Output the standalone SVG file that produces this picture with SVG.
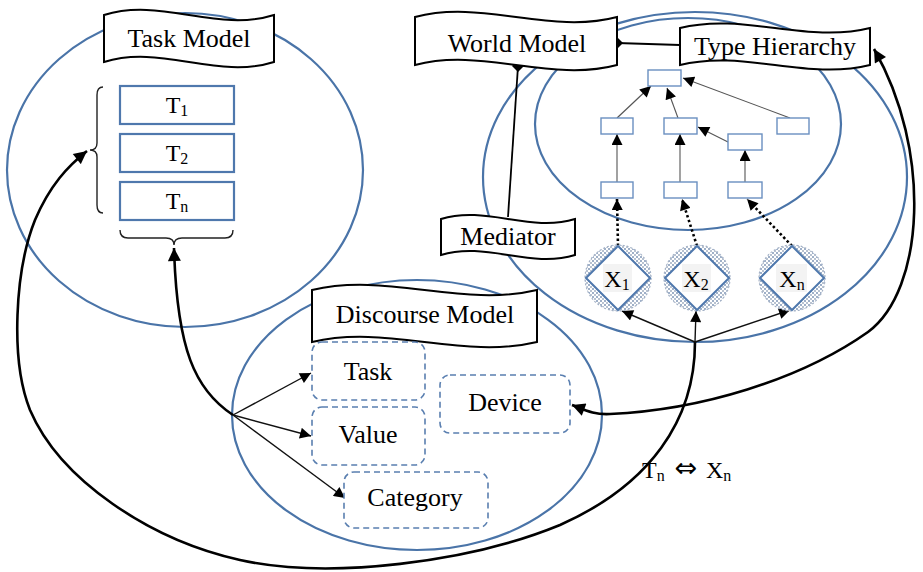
<svg xmlns="http://www.w3.org/2000/svg" width="923" height="572" viewBox="0 0 923 572">
<style>
.ell{fill:none;stroke:#4a74a8;stroke-width:2.2}
.ban{fill:#fff;stroke:#000;stroke-width:2}
.lbl{font-family:"Liberation Serif","Times New Roman",serif;font-size:26px;fill:#000}
.sm{font-size:24px}
.sub{font-size:16px}
.tbox{fill:#fff;stroke:#4f78ad;stroke-width:2.2}
.hbox{fill:#fff;stroke:#6a8fc0;stroke-width:1.4}
.dbox{fill:#fff;stroke:#5a7fb0;stroke-width:1.6;stroke-dasharray:6,4}
.thin{fill:none;stroke:#555;stroke-width:1.1}
.hub{fill:none;stroke:#111;stroke-width:1.4}
.big{fill:none;stroke:#000;stroke-width:2.6}
.dot{fill:none;stroke:#000;stroke-width:2.6;stroke-dasharray:2.5,2.5}
.brace{fill:none;stroke:#222;stroke-width:1.4}
.hc{fill:url(#hatch);stroke:#a3b1c6;stroke-width:1.2;stroke-dasharray:2,2}
.dm{fill:#fff;stroke:#4f78ad;stroke-width:2}
</style>
<defs>
<marker id="ah" viewBox="0 0 10 10" refX="10" refY="5" markerWidth="12" markerHeight="11" markerUnits="userSpaceOnUse" orient="auto"><path d="M0,0 L10,5 L0,10 Z" fill="#000"/></marker>
<marker id="ahb" viewBox="0 0 10 10" refX="10" refY="5" markerWidth="15" markerHeight="13" markerUnits="userSpaceOnUse" orient="auto-start-reverse"><path d="M0,0 L10,5 L0,10 Z" fill="#000"/></marker>
<marker id="dia" viewBox="0 0 10 10" refX="5" refY="5" markerWidth="12" markerHeight="12" markerUnits="userSpaceOnUse" orient="0"><path d="M5,0 L10,5 L5,10 L0,5 Z" fill="#000"/></marker>
<pattern id="hatch" width="4" height="4" patternUnits="userSpaceOnUse"><rect width="4" height="4" fill="#fff"/><rect width="2" height="2" fill="#9fb0c8"/><rect x="2" y="2" width="2" height="2" fill="#b8c2d0"/></pattern>
</defs>

<g id="ellipses">
<ellipse class="ell" cx="185" cy="170" rx="178" ry="157"/>
<ellipse class="ell" cx="417" cy="415" rx="185" ry="135"/>
<ellipse class="ell" cx="695" cy="177" rx="212" ry="165"/>
<ellipse class="ell" cx="688" cy="124" rx="153" ry="106"/>
</g>

<g id="connectors">
<path class="big" d="M695,342 C695,420 650,485 560,525 C470,562 330,580 240,560 C150,540 60,480 30,410 C10,360 15,270 35,220 C50,185 68,166 87,151" marker-end="url(#ahb)"/>
<path class="big" d="M233,415 C195,390 177,350 174,248" marker-end="url(#ahb)"/>
<path class="big" d="M572,405 C585,410 595,415 610,414 C700,410 800,380 868,332 C925,290 932,150 874,49" marker-start="url(#ahb)" marker-end="url(#ahb)"/>
<line class="hub" x1="233" y1="415" x2="311" y2="373" marker-end="url(#ah)"/>
<line class="hub" x1="233" y1="415" x2="311" y2="436" marker-end="url(#ah)"/>
<line class="hub" x1="233" y1="415" x2="345" y2="498" marker-end="url(#ah)"/>
<line class="hub" x1="695" y1="342" x2="622" y2="311" marker-end="url(#ah)"/>
<line class="hub" x1="695" y1="342" x2="696" y2="311" marker-end="url(#ah)"/>
<line class="hub" x1="695" y1="342" x2="790" y2="310" marker-end="url(#ah)"/>
<line class="dot" x1="618" y1="246" x2="617" y2="199" marker-end="url(#ah)"/>
<line class="dot" x1="697" y1="246" x2="682" y2="199" marker-end="url(#ah)"/>
<line class="dot" x1="792" y1="246" x2="747" y2="199" marker-end="url(#ah)"/>
<line class="thin" x1="617" y1="118" x2="651" y2="86" marker-end="url(#ah)"/>
<line class="thin" x1="678" y1="118" x2="667" y2="88" marker-end="url(#ah)"/>
<line class="thin" x1="790" y1="118" x2="683" y2="78" marker-end="url(#ah)"/>
<line class="thin" x1="728" y1="142" x2="698" y2="127" marker-end="url(#ah)"/>
<line class="thin" x1="617" y1="182" x2="617" y2="134" marker-end="url(#ah)"/>
<line class="thin" x1="680" y1="182" x2="680" y2="134" marker-end="url(#ah)"/>
<line class="thin" x1="745" y1="182" x2="745" y2="150" marker-end="url(#ah)"/>
<line stroke="#000" stroke-width="1.8" x1="617" y1="43" x2="680" y2="45" marker-start="url(#dia)"/>
<line stroke="#000" stroke-width="1.8" x1="518" y1="66" x2="508" y2="217" marker-start="url(#dia)"/>
<path class="brace" d="M103,87 Q97,87 97,95 L97,143 Q97,150 90,150 Q97,150 97,157 L97,205 Q97,213 103,213"/>
<path class="brace" d="M120,230 Q120,238 128,238 L166,238 Q174,238 174,245 Q174,238 182,238 L225,238 Q233,238 233,230"/>
</g>

<g id="task-model">
<path class="ban" d="M104,15 C161,-3 217,33 274,15 L274,62 C217,80 161,44 104,62 Z"/>
<text class="lbl" x="189" y="47" text-anchor="middle">Task Model</text>
</g>
<g id="t1"><rect class="tbox" x="120" y="86" width="114" height="38"/><text class="lbl sm" x="177" y="113" text-anchor="middle">T<tspan class="sub" dy="3">1</tspan></text></g>
<g id="t2"><rect class="tbox" x="120" y="134" width="114" height="38"/><text class="lbl sm" x="177" y="161" text-anchor="middle">T<tspan class="sub" dy="3">2</tspan></text></g>
<g id="tn"><rect class="tbox" x="120" y="182" width="114" height="38"/><text class="lbl sm" x="177" y="209" text-anchor="middle">T<tspan class="sub" dy="3">n</tspan></text></g>

<g id="world-model">
<path class="ban" d="M415,17 C482,-1 550,35 617,17 L617,65 C550,83 482,47 415,65 Z"/>
<text class="lbl" x="517" y="52" text-anchor="middle">World Model</text>
</g>
<g id="type-hierarchy">
<path class="ban" d="M680,28 C743,12 807,44 870,28 L870,65 C807,81 743,49 680,65 Z"/>
<text class="lbl" x="775" y="55" text-anchor="middle">Type Hierarchy</text>
</g>
<g id="mediator">
<path class="ban" d="M441,219 C486,205 530,233 575,219 L575,255 C530,269 486,241 441,255 Z"/>
<text class="lbl" x="508" y="245" text-anchor="middle">Mediator</text>
</g>
<g id="discourse-model">
<path class="ban" d="M312,290 C387,272 462,308 537,290 L537,342 C462,360 387,324 312,342 Z"/>
<text class="lbl" x="425" y="323" text-anchor="middle">Discourse Model</text>
</g>

<g id="hierarchy-nodes">
<rect class="hbox" x="648" y="70" width="33" height="16"/>
<rect class="hbox" x="601" y="118" width="32" height="16"/>
<rect class="hbox" x="664" y="118" width="33" height="16"/>
<rect class="hbox" x="777" y="118" width="32" height="16"/>
<rect class="hbox" x="728" y="134" width="34" height="16"/>
<rect class="hbox" x="601" y="182" width="32" height="16"/>
<rect class="hbox" x="664" y="182" width="33" height="16"/>
<rect class="hbox" x="728" y="182" width="34" height="16"/>
</g>

<g id="x1">
<circle class="hc" cx="618" cy="278" r="33"/>
<polygon class="dm" points="618,246 650,278 618,310 586,278"/>
<rect x="603" y="264" width="29" height="28" fill="#f3f3f3"/>
<text class="lbl sm" x="617" y="287" text-anchor="middle">X<tspan class="sub" dy="3">1</tspan></text>
</g>
<g id="x2">
<circle class="hc" cx="697" cy="278" r="33"/>
<polygon class="dm" points="697,246 729,278 697,310 665,278"/>
<rect x="682" y="264" width="29" height="28" fill="#f3f3f3"/>
<text class="lbl sm" x="696" y="287" text-anchor="middle">X<tspan class="sub" dy="3">2</tspan></text>
</g>
<g id="xn">
<circle class="hc" cx="792" cy="278" r="33"/>
<polygon class="dm" points="792,246 824,278 792,310 760,278"/>
<rect x="776" y="264" width="31" height="28" fill="#f3f3f3"/>
<text class="lbl sm" x="792" y="287" text-anchor="middle">X<tspan class="sub" dy="3">n</tspan></text>
</g>

<g id="task"><rect class="dbox" x="312" y="342" width="113" height="58" rx="10"/><text class="lbl" x="368" y="380" text-anchor="middle">Task</text></g>
<g id="value"><rect class="dbox" x="312" y="407" width="113" height="58" rx="10"/><text class="lbl" x="368" y="443" text-anchor="middle">Value</text></g>
<g id="category"><rect class="dbox" x="344" y="472" width="144" height="56" rx="10"/><text class="lbl" x="415" y="506" text-anchor="middle">Category</text></g>
<g id="device"><rect class="dbox" x="440" y="375" width="130" height="58" rx="10"/><text class="lbl" x="505" y="411" text-anchor="middle">Device</text></g>

<g id="mapping">
<text class="lbl sm" x="642" y="478">T<tspan class="sub" dy="3">n</tspan></text>
<text x="686" y="477" text-anchor="middle" style="font-family:'DejaVu Sans',sans-serif;font-size:27px">⇔</text>
<text class="lbl sm" x="706" y="478">X<tspan class="sub" dy="3">n</tspan></text>
</g>
</svg>
